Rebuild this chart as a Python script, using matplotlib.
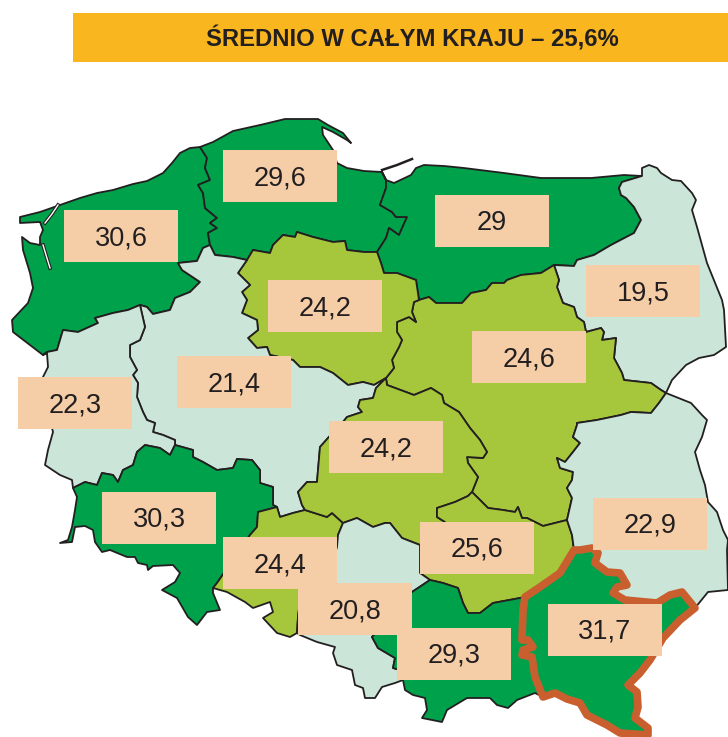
import numpy as np
import matplotlib
matplotlib.use('Agg')
from matplotlib import pyplot as plt
from matplotlib.patches import Polygon, Rectangle

plt.rcParams['font.family'] = ['Liberation Sans', 'DejaVu Sans']

title = 'ŚREDNIO W CAŁYM KRAJU – 25,6%'

# wartosci i polozenie etykiet
region_names = ['zach', 'pom', 'warm', 'podl', 'maz', 'kuj', 'wlkp', 'lub',
                'dolno', 'opol', 'lodz', 'swie', 'slask', 'malop', 'podk', 'lubel']
region_values = [30.6, 29.6, 29, 19.5, 24.6, 24.2, 21.4, 22.3,
                 30.3, 24.4, 24.2, 25.6, 20.8, 29.3, 31.7, 22.9]
label_x = [121, 280, 492, 643, 529, 325, 234, 75, 159, 280, 386, 477, 355, 454, 605, 650]
label_y = [236, 176, 221, 291, 357, 306, 382, 403, 518, 563, 447, 548, 609, 654, 630, 524]

# granice wojewodztw (piksele mapy), wspolne odcinki
zach_coast = [(200,147),(190,148),(180,153),(172,163),(163,173),(147,181),(133,184),(113,190),(97,193),(80,198),
              (60,205),(40,212),(20,217),(20,223),(40,222),(43,230),(40,237),(40,245),(30,243),(22,237),(23,250),
              (30,273),(33,288),(28,303),(12,320),(13,332),(43,355)]
zach_lub = [(43,355),(47,352),(57,350),(63,330),(78,332),(98,323),(95,318),(113,313),(128,310),(140,305)]
zach_wlkp = [(140,305),(147,307),(153,314),(170,310),(175,298),(190,292),(200,282),(182,270),(178,263),(197,261),
             (203,248),(210,245)]
zach_pom = [(210,245),(208,233),(217,228),(210,223),(217,218),(205,208),(203,193),(198,185),(210,180),(205,168),
            (207,158),(200,147)]
pom_coast = [(200,147),(213,142),(233,131),(260,125),(285,119),(318,119),(328,125),(343,133),(351,143),(347,140),
             (333,132),(322,127),(323,135),(333,150),(337,163),(347,168),(364,171),(382,172)]
pom_warm = [(382,172),(386,180),(386,188),(380,205),(392,212),(396,217),(407,217),(399,235),(389,228),(386,238),
            (377,252)]
pom_kuj = [(377,252),(364,252),(347,250),(345,241),(333,242),(313,237),(297,232),(295,237),(283,235),(273,245),
           (270,253),(253,250),(247,260)]
pom_wlkp = [(247,260),(233,257),(215,255),(210,245)]
warm_coast = [(642,176),(624,175),(591,178),(561,178),(541,178),(504,173),(464,168),(444,166),(424,165),(416,168),
              (411,175),(394,183),(386,180),(382,172)]
warm_kuj = [(377,252),(381,263),(384,273),(397,273),(416,280),(419,300)]
warm_maz = [(419,300),(429,297),(436,303),(462,303),(471,293),(486,290),(492,283),(504,283),(507,280),(521,275),
            (541,273),(554,265)]
warm_podl = [(554,265),(574,266),(577,260),(594,255),(611,245),(634,233),(641,220),(634,207),(626,198),(621,195),
             (619,188),(622,182),(642,176)]
podl_border = [(642,176),(642,168),(649,165),(657,168),(661,173),(672,180),(681,181),(692,193),(696,200),(692,210),
               (697,227),(707,263),(722,300),(724,310),(726,347),(714,355),(699,358),(686,365),(672,380),(666,393)]
maz_podl = [(554,265),(559,280),(557,287),(563,303),(574,307),(577,317),(584,322),(586,332),(601,328),(604,332),
            (602,340),(616,338),(614,358),(622,373),(624,380),(651,383),(661,390),(666,393)]
maz_lub = [(666,393),(659,403),(651,413),(631,412),(621,415),(597,420),(577,423),(577,425),(573,437),(580,443),
           (573,452),(565,462),(557,458),(560,468),(573,472),(572,480),(567,488),(572,498),(567,520)]
maz_swie = [(567,520),(543,526),(527,518),(522,518),(518,507),(515,512),(503,510),(488,508),(480,500),(472,492)]
maz_lodz = [(472,492),(478,477),(468,463),(467,457),(483,458),(487,452),(480,440),(470,428),(459,412),(444,403),
            (442,395),(431,388),(414,395),(387,385),(386,378)]
maz_kuj = [(386,378),(394,368),(392,360),(399,347),(402,340),(397,332),(397,322),(409,317),(416,322),(412,312),
           (414,302),(419,300)]
kuj_wlkp = [(247,260),(238,273),(250,285),(242,292),(247,300),(242,313),(257,320),(258,330),(248,338),(257,348),
            (267,347),(270,355),(293,360),(300,367),(320,367),(333,373),(348,385),(363,382),(374,385),(386,378)]
lodz_wlkp = [(386,378),(376,388),(373,398),(360,400),(358,407),(362,412),(347,417),(343,422),(328,438),(320,447),
             (318,470),(317,482),(307,482),(298,492),(302,505),(305,510)]
opol_wlkp = [(305,510),(293,513),(280,517),(277,507)]
dolno_wlkp = [(277,507),(273,505),(273,487),(260,483),(260,470),(252,460),(237,459),(233,468),(217,470),(203,462),
              (193,457),(193,450),(175,445)]
lub_wlkp = [(140,305),(145,327),(140,340),(130,345),(130,357),(137,370),(133,375),(138,383),(137,397),(143,412),
            (147,420),(155,423),(153,432),(163,435),(175,440),(175,445)]
lub_border = [(43,355),(47,353),(48,367),(43,377),(40,400),(50,420),(53,432),(48,450),(45,465),(60,475),(72,480),(73,488)]
lub_dolno = [(73,488),(85,482),(97,485),(102,473),(113,475),(118,482),(123,470),(133,465),(137,452),(145,445),
             (160,448),(170,455),(175,445)]
dolno_border = [(73,488),(77,497),(75,510),(72,527),(68,540),(60,543),(72,542),(75,527),(85,526),(93,530),(95,542),
                (102,552),(110,550),(127,557),(135,557),(138,563),(147,565),(148,570),(153,566),(173,565),(180,573),
                (175,582),(162,590),(177,598),(188,617),(197,625),(207,612),(220,610),(213,593),(213,588)]
dolno_opol = [(213,588),(217,583),(250,535),(257,527),(258,512),(277,507)]
opol_lodz = [(305,510),(327,517),(332,513),(343,523)]
opol_slask = [(343,523),(338,535),(337,547),(330,570),(300,600),(298,617),(297,633)]
opol_border = [(213,588),(227,592),(245,602),(253,608),(270,602),(273,612),(263,618),(277,633),(290,637),(297,633)]
lodz_slask = [(343,523),(357,518),(373,527),(385,523),(390,523),(402,538),(420,545)]
lodz_swie = [(472,492),(468,496),(455,502),(437,508),(437,517),(445,522),(430,535),(420,545)]
swie_slask = [(420,545),(420,573),(430,580)]
swie_lub = [(567,520),(572,535),(574,550)]
swie_podk = [(525,597),(540,587),(560,573),(574,550)]
swie_malop = [(430,580),(443,583),(458,588),(463,603),(468,613),(480,613),(493,603),(520,598),(525,597)]
malop_slask = [(430,580),(412,592),(372,637),(378,648),(395,658),(393,668),(400,670),(403,680)]
slask_border = [(297,633),(300,635),(317,642),(335,647),(333,653),(337,665),(352,670),(355,685),(363,688),(365,698),
                (375,698),(382,687),(395,683),(403,680)]
malop_border = [(403,680),(405,690),(413,695),(425,698),(427,710),(422,718),(442,722),(447,710),(467,698),(490,698),
                (497,705),(508,708),(517,700),(535,693),(543,697)]
malop_podk = [(525,597),(523,610),(522,640),(528,640),(533,647),(523,650),(522,655),(532,657),(535,677),(543,697)]
lub_podk = [(574,550),(580,550),(592,548),(598,553),(595,563),(607,572),(620,573),(627,585),(617,587),(613,593),
            (625,600),(657,603),(670,595),(682,592),(695,608)]
podk_border = [(695,608),(680,620),(663,638),(650,660),(640,673),(628,685),(637,692),(638,707),(635,718),(648,728),
               (648,735),(620,733),(607,725),(587,715),(580,703),(567,699),(555,693),(543,697)]
lubel_border = [(666,393),(691,403),(702,415),(707,420),(702,437),(695,452),(700,470),(705,485),(708,502),(717,512),
                (723,530),(728,540),(727,550),(728,590),(708,592),(695,608)]


def ring(*arcs):
    return np.vstack([np.array(a) for a in arcs])


def rev(arc):
    return arc[::-1]


rings = {
    'zach': ring(zach_coast, zach_lub, zach_wlkp, zach_pom),
    'pom': ring(pom_coast, pom_warm, pom_kuj, pom_wlkp, zach_pom),
    'warm': ring(warm_coast, pom_warm, warm_kuj, warm_maz, warm_podl),
    'podl': ring(podl_border, rev(maz_podl), warm_podl),
    'maz': ring(warm_maz, maz_podl, maz_lub, maz_swie, maz_lodz, maz_kuj),
    'kuj': ring(pom_kuj, kuj_wlkp, maz_kuj, rev(warm_kuj)),
    'wlkp': ring(rev(pom_wlkp), kuj_wlkp, lodz_wlkp, opol_wlkp, dolno_wlkp, rev(lub_wlkp), zach_wlkp),
    'lub': ring(zach_lub, lub_wlkp, rev(lub_dolno), rev(lub_border)),
    'dolno': ring(lub_dolno, rev(dolno_wlkp), rev(dolno_opol), rev(dolno_border)),
    'opol': ring(rev(opol_wlkp), opol_lodz, opol_slask, rev(opol_border), dolno_opol),
    'lodz': ring(rev(maz_lodz), lodz_swie, rev(lodz_slask), rev(opol_lodz), rev(lodz_wlkp)),
    'swie': ring(rev(maz_swie), swie_lub, rev(swie_podk), rev(swie_malop), rev(swie_slask), rev(lodz_swie)),
    'slask': ring(lodz_slask, swie_slask, malop_slask, rev(slask_border), rev(opol_slask)),
    'malop': ring(swie_malop, malop_podk, rev(malop_border), rev(malop_slask)),
    'podk': ring(swie_podk, lub_podk, podk_border, rev(malop_podk)),
    'lubel': ring(rev(maz_lub), lubel_border, rev(lub_podk), rev(swie_lub)),
}


def kolor(v):
    if v < 24:
        return '#CBE6D8'
    if v < 26:
        return '#A6C63C'
    return '#00A14B'


fig = plt.figure(figsize=(7.28, 7.37), dpi=100)
ax = fig.add_axes([0, 0, 1, 1])
ax.set_xlim(0, 728)
ax.set_ylim(737, 0)
ax.axis('off')

# pasek z tytulem
ax.add_patch(Rectangle((73, 13), 655, 49, facecolor='#F9B61F', edgecolor='none'))
ax.text(412, 38.5, title, ha='center', va='center', fontsize=17.2, fontweight='bold', color='#231F20')

for name, value in zip(region_names, region_values):
    ax.add_patch(Polygon(rings[name], closed=True, facecolor=kolor(value), edgecolor='#231F20',
                         linewidth=1.3, joinstyle='round'))

# mierzeja i rzeki
ax.plot([382, 397, 412], [170, 165, 159], color='#231F20', lw=1.8)
for xs, ys in [([58, 52, 45], [205, 214, 223]), ([43, 46, 50], [245, 255, 268])]:
    ax.plot(xs, ys, color='#231F20', lw=2.6)
    ax.plot(xs, ys, color='white', lw=1.0)

# obrys podkarpackiego
ax.add_patch(Polygon(rings['podk'], closed=True, facecolor='none', edgecolor='#C95F2E',
                     linewidth=5.5, joinstyle='round'))

# etykiety
for value, x, y in zip(region_values, label_x, label_y):
    ax.add_patch(Rectangle((x - 57, y - 26), 114, 52, facecolor='#F5CEA8', edgecolor='none', zorder=5))
    ax.text(x, y + 2, f'{value:g}'.replace('.', ','), ha='center', va='center', fontsize=19.5,
            color='#231F20', zorder=6)

fig.savefig('out.png', dpi=100)
